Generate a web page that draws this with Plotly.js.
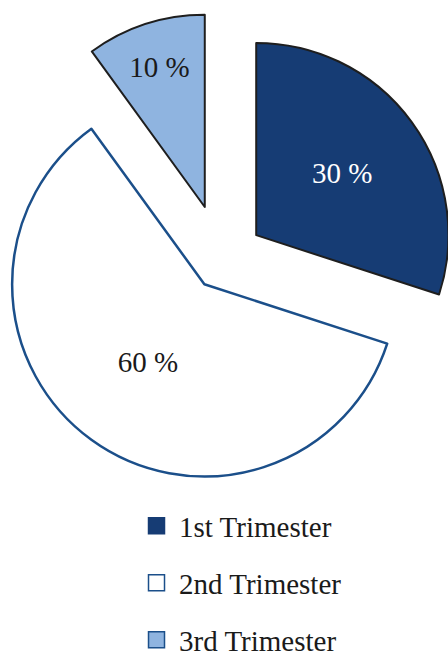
<!DOCTYPE html>
<html>
<head>
<meta charset="utf-8">
<script src="https://cdn.plot.ly/plotly-3.0.1.min.js"></script>
<style>
html,body{margin:0;padding:0;width:448px;height:656px;overflow:hidden;background:#fff;position:relative}
#chart{position:absolute;left:-26px;top:0;width:496px;height:700px}
</style>
</head>
<body>
<div id="chart"></div>
<script>
const categories = ['1st Trimester', '2nd Trimester', '3rd Trimester'];
const shares = [30, 60, 10];
const pulls = [0.22, 0.156, 0.29];
const fillColors = ['#163c74', '#ffffff', '#8fb4e0'];
const sliceLineColors = ['#1e1e1e', '#1b4f8a', '#1e1e1e'];
const sliceLineWidths = [2, 2.5, 2];
const textColors = ['#ffffff', '#1a1a1a', '#1a1a1a'];
const legendLineColors = ['#163c74', '#1b4f8a', '#1b4f8a'];

const FONT = 'Liberation Serif, Times New Roman, serif';

const pie = {
  type: 'pie',
  labels: categories,
  values: shares,
  pull: pulls,
  sort: false,
  direction: 'clockwise',
  rotation: 0,
  showlegend: false,
  domain: {x: [0, 1], y: [0.27429, 0.98286]},
  marker: {colors: fillColors, line: {color: sliceLineColors, width: sliceLineWidths}},
  texttemplate: '%{value} %',
  textposition: 'inside',
  insidetextorientation: 'horizontal',
  textfont: {family: FONT, size: 29, color: textColors},
  hoverinfo: 'none'
};

const legendTraces = categories.map((c, i) => ({
  type: 'scatter',
  x: [null], y: [null],
  mode: 'markers',
  name: c,
  legendgroup: 'g' + i,
  hoverinfo: 'skip',
  marker: {symbol: 'square', size: 16, color: fillColors[i], line: {color: legendLineColors[i], width: 1.5}}
}));

const layout = {
  width: 496, height: 700,
  margin: {l: 0, r: 0, t: 0, b: 0},
  paper_bgcolor: '#ffffff',
  plot_bgcolor: 'rgba(0,0,0,0)',
  font: {family: FONT, color: '#1a1a1a'},
  xaxis: {visible: false},
  yaxis: {visible: false},
  showlegend: true,
  legend: {
    x: 0.3226, y: 0.2852, xanchor: 'left', yanchor: 'top',
    traceorder: 'grouped', tracegroupgap: 16.3,
    itemwidth: 35,
    font: {family: FONT, size: 29, color: '#1a1a1a'},
    bgcolor: 'rgba(0,0,0,0)'
  }
};

Plotly.newPlot('chart', [pie].concat(legendTraces), layout, {displayModeBar: false, staticPlot: true});
</script>
</body>
</html>
